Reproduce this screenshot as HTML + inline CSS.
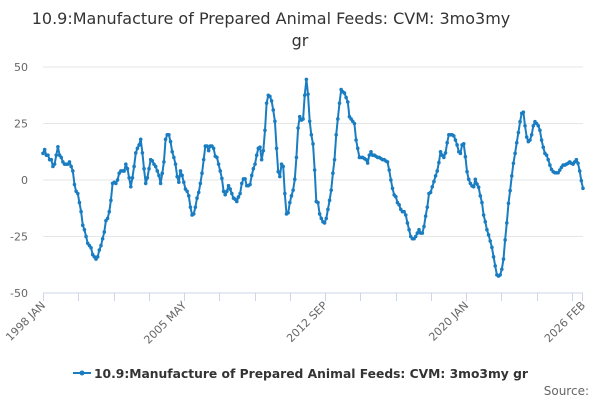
<!DOCTYPE html>
<html><head><meta charset="utf-8"><style>
body{margin:0;background:#fff;font-family:"DejaVu Sans","Liberation Sans",sans-serif;}
svg{display:block}
</style></head><body>
<svg id="chart" width="600" height="400" font-family="DejaVu Sans, Liberation Sans, sans-serif">
<text x="271" y="24" text-anchor="middle" font-size="16" fill="#333">10.9:Manufacture of Prepared Animal Feeds: CVM: 3mo3my</text>
<text x="300" y="46" text-anchor="middle" font-size="16" fill="#333">gr</text>
<g id="grid"></g><g id="yaxis"></g><g id="xaxis"></g><g id="series"></g>
<g>
<line x1="73" y1="373" x2="91" y2="373" stroke="#1a7dc2" stroke-width="2"/>
<circle cx="82" cy="373" r="2.5" fill="#1a7dc2"/>
<text x="94" y="378" font-size="12.3" font-weight="bold" fill="#333">10.9:Manufacture of Prepared Animal Feeds: CVM: 3mo3my gr</text>
</g>
<text x="589" y="395" text-anchor="end" font-size="12" fill="#666">Source:</text>
</svg>
<script>
const yTicks=[50,25,0,-25,-50];
const xLabels=["1998 JAN","2005 MAY","2012 SEP","2020 JAN","2026 FEB"];
const xLabelMonths=[0,88,176,264,337];
const values=[11.8,13.5,11,11,9,9,6,7,11,14.7,11,10,8,7,7,7,8,6,4,-2,-5,-6,-10,-14,-20,-22,-25,-28,-29,-30,-33,-34,-35,-34,-31,-29,-26,-23,-18,-17,-14,-9,-1.5,-1,-1.5,0,3,4,4,4,7,5,1,-3,1,6,12,14,15.5,18,12,5,-1.5,1,5,9,8.5,7,6,4,2,-1.5,3,8,18,20,20,17,12.5,10,7,1.5,-1,
4,2,-1,-4,-5,-7,-12,-15.5,-15,-12,-8,-5.5,-1.5,3,9,15,15,13,15,15,14,10.5,10,7,4,0.7,-5,-6.5,-5,-2.5,-4,-6,-8,-8.5,-9.5,-7.5,-6,-1.5,0.5,0.5,-2.5,-2.5,-2,2,5,7,11,14,14.5,9,13,22,34,37.5,37,35,31,26,14,3.7,1.5,7,6,-6,-15,-14.5,-10,-7,-4.5,0.3,10,23,28,26.5,27,37.5,44.5,38,26,20,16,4.4,-9.5,
-10,-15,-17,-18.5,-19,-17,-13,-9,-4.5,3,9,20,27,34,40,39,38.5,36.5,34.5,28,27,26,25,17.7,14,10,10,10,9.5,9,7.5,11,12.5,11,11,10.5,10,10,9.5,9,9,8.4,8,4.4,0,-3.7,-6.6,-7.4,-10,-11,-13,-14,-14,-15.5,-19,-22,-25,-26,-26,-25,-23.5,-22,-23.5,-23.5,-20.6,-16,-12,-6,-5.5,-3,-0.7,1.8,4,7.7,12.5,11,10,12,16.5,20,20,
20,19.5,17.7,15.5,12.5,11.8,15.5,16,10.3,3.7,0.3,-1.5,-2.6,-3,0.3,-1.8,-3.2,-7,-10,-15.5,-18.5,-22,-24.3,-27,-29.8,-34,-38,-42,-42.5,-42,-39.5,-35,-26.5,-19,-10.3,-4.7,1.8,7.4,11.8,16.5,21,25.8,29.5,30,24,19,17,17.7,20,24,25.8,25,24,22,17.7,14.5,11.8,11,9,6.6,4.7,3.7,3.2,3.2,3.2,4.4,5.6,6.6,6.6,7,7.4,8,7.4,7,8,9,7.4,4,-0.3,-3.7];
const NS="http://www.w3.org/2000/svg";
const X0=43,X1=583,Y0=67,Y1=293;
const yScale=v=>Y0+(50-v)/100*(Y1-Y0);
const xIdx=i=>X0+i/(values.length-1)*(X1-X0);
const xMonth=m=>X0+m/337*(X1-X0);
function mk(tag,attrs,parent){const e=document.createElementNS(NS,tag);for(const k in attrs)e.setAttribute(k,attrs[k]);parent.appendChild(e);return e;}
const grid=document.getElementById('grid'),ya=document.getElementById('yaxis'),xa=document.getElementById('xaxis'),se=document.getElementById('series');
yTicks.forEach(t=>{
 const y=yScale(t);
 if(t!==-50){const g=mk('line',{x1:X0,x2:X1,y1:y,y2:y,stroke:'#e6e6e6','stroke-width':1},grid);
 
 }
 const tx=mk('text',{x:28,y:y+4,'text-anchor':'end','font-size':11,fill:'#666'},ya);
 tx.textContent=t;
 
 
});
const ax=mk('line',{x1:X0,x2:X1,y1:Y1,y2:Y1,stroke:'#ccd6eb','stroke-width':1},xa);


for(let m=0;m<=337;m+=22){const x=Math.round(xMonth(m))+0.5;const tk=mk('line',{x1:x,x2:x,y1:Y1,y2:Y1+8,stroke:'#ccd6eb'},xa);
 
 }
const lastTk=mk('line',{x1:X1-0.5,x2:X1-0.5,y1:Y1,y2:Y1+8,stroke:'#ccd6eb'},xa);


xLabels.forEach((l,i)=>{
 const x=xMonth(xLabelMonths[i])+3,y=Y1+13;
 const tx=mk('text',{x:x,y:y,'text-anchor':'end','font-size':11,fill:'#666',transform:`rotate(-45 ${x} ${y})`},xa);
 tx.textContent=l;
 
 
});
const pts=values.map((v,i)=>xIdx(i).toFixed(1)+','+yScale(v).toFixed(1)).join(' ');
const pl=mk('polyline',{points:pts,fill:'none',stroke:'#1a7dc2','stroke-width':2,'stroke-linejoin':'round'},se);


values.forEach((v,i)=>{const c=mk('circle',{cx:xIdx(i),cy:yScale(v),r:1.8,fill:'#1a7dc2'},se);
 
 });
</script>
</body></html>
